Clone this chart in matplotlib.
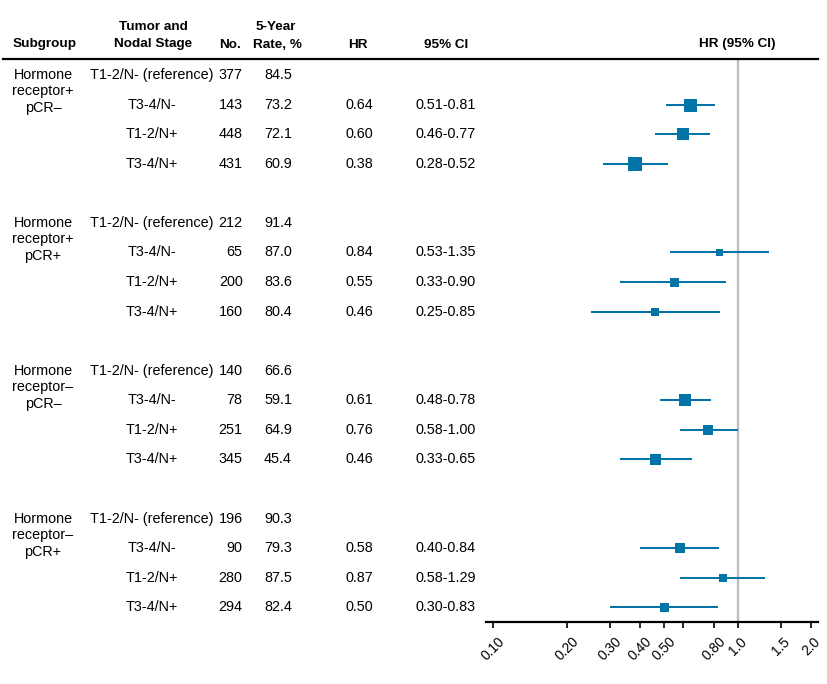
import matplotlib
matplotlib.use("Agg")
import matplotlib.pyplot as plt
from matplotlib.transforms import blended_transform_factory
from matplotlib.lines import Line2D

plt.rcParams['font.family'] = ['Liberation Sans', 'DejaVu Sans']

# ---------------- data ----------------
group_labels = [["Hormone", "receptor+", "pCR–"],
                ["Hormone", "receptor+", "pCR+"],
                ["Hormone", "receptor–", "pCR–"],
                ["Hormone", "receptor–", "pCR+"]]
stages = ["T1-2/N- (reference)", "T3-4/N-", "T1-2/N+", "T3-4/N+"]
n_counts = [[377, 143, 448, 431],
            [212, 65, 200, 160],
            [140, 78, 251, 345],
            [196, 90, 280, 294]]
rates = [[84.5, 73.2, 72.1, 60.9],
         [91.4, 87.0, 83.6, 80.4],
         [66.6, 59.1, 64.9, 45.4],
         [90.3, 79.3, 87.5, 82.4]]
hr = [[None, 0.64, 0.60, 0.38],
      [None, 0.84, 0.55, 0.46],
      [None, 0.61, 0.76, 0.46],
      [None, 0.58, 0.87, 0.50]]
ci_lo = [[None, 0.51, 0.46, 0.28],
         [None, 0.53, 0.33, 0.25],
         [None, 0.48, 0.58, 0.33],
         [None, 0.40, 0.58, 0.30]]
ci_hi = [[None, 0.81, 0.77, 0.52],
         [None, 1.35, 0.90, 0.85],
         [None, 0.78, 1.00, 0.65],
         [None, 0.84, 1.29, 0.83]]
x_ticks = [0.10, 0.20, 0.30, 0.40, 0.50, 0.60, 0.80, 1.0, 1.5, 2.0]
x_ticklabels = ["0.10", "0.20", "0.30", "0.40", "0.50", "", "0.80", "1.0", "1.5", "2.0"]

# ---------------- style ----------------
marker_px = [[0, 13, 12, 13.5],
             [0, 7, 9, 8],
             [0, 11.7, 10, 11],
             [0, 10, 8, 9]]
BLUE = "#0174A8"
W, H = 828, 684
BODY = 10.4
HEAD = 9.7

fig = plt.figure(figsize=(W / 100, H / 100), dpi=100)
ax_l, ax_r, ax_t, ax_b = 486, 818, 60.2, 622
ax = fig.add_axes([ax_l / W, 1 - ax_b / H, (ax_r - ax_l) / W, (ax_b - ax_t) / H])

rows_per_group = len(stages) + 1
n_rows = rows_per_group * len(group_labels) - 1

trans = blended_transform_factory(fig.transFigure, ax.transData)

def fx(px):
    return px / W

row_px = (ax_b - ax_t) / n_rows

for g in range(len(group_labels)):
    base = g * rows_per_group
    for k, line in enumerate(group_labels[g]):
        ax.text(fx(43), base + k * 16.5 / row_px, line, transform=trans,
                ha='center', va='center', fontsize=BODY)
    for i, st in enumerate(stages):
        r = base + i
        ax.text(fx(152), r, st, transform=trans, ha='center', va='center', fontsize=BODY)
        ax.text(fx(242.5), r, f"{n_counts[g][i]}", transform=trans, ha='right', va='center', fontsize=BODY)
        ax.text(fx(278), r, f"{rates[g][i]:.1f}", transform=trans, ha='center', va='center', fontsize=BODY)
        if hr[g][i] is not None:
            ax.text(fx(359), r, f"{hr[g][i]:.2f}", transform=trans, ha='center', va='center', fontsize=BODY)
            ax.text(fx(446), r, f"{ci_lo[g][i]:.2f}-{ci_hi[g][i]:.2f}", transform=trans,
                    ha='center', va='center', fontsize=BODY)
            ax.plot([ci_lo[g][i], ci_hi[g][i]], [r, r], color=BLUE, lw=1.45, solid_capstyle='butt', zorder=3)
            ax.plot([hr[g][i]], [r], marker='s', color=BLUE, markersize=marker_px[g][i] * 0.72,
                    markeredgewidth=0, zorder=4)

ax.axvline(1.0, color='#BDBDBD', lw=1.7, zorder=1)

ax.set_xscale('log')
ax.set_xlim(0.0933, 2.135)
ax.set_ylim(n_rows - 0.5, -0.5)
ax.set_xticks(x_ticks)
ax.set_xticklabels(x_ticklabels, rotation=45, ha='center', fontsize=9.9)
ax.minorticks_off()
ax.tick_params(axis='x', direction='out', length=4.5, width=1.2, pad=4.5)
ax.set_yticks([])
for s in ['top', 'left', 'right']:
    ax.spines[s].set_visible(False)
ax.spines['bottom'].set_linewidth(1.6)

# headers
def hy(py):
    return 1 - py / H

fig.text(fx(13), hy(44.5), "Subgroup", ha='left', va='center', fontsize=HEAD, fontweight='bold')
fig.text(fx(153), hy(27.5), "Tumor and", ha='center', va='center', fontsize=HEAD, fontweight='bold')
fig.text(fx(153), hy(44.5), "Nodal Stage", ha='center', va='center', fontsize=HEAD, fontweight='bold')
fig.text(fx(241), hy(44.5), "No.", ha='right', va='center', fontsize=HEAD, fontweight='bold')
fig.text(fx(276), hy(27.5), "5-Year", ha='center', va='center', fontsize=HEAD, fontweight='bold')
fig.text(fx(277), hy(44.5), "Rate, %", ha='center', va='center', fontsize=HEAD, fontweight='bold')
fig.text(fx(358), hy(44.5), "HR", ha='center', va='center', fontsize=HEAD, fontweight='bold')
fig.text(fx(446), hy(44.5), "95% CI", ha='center', va='center', fontsize=HEAD, fontweight='bold')
fig.text(fx(737), hy(44.5), "HR (95% CI)", ha='center', va='center', fontsize=HEAD, fontweight='bold')
fig.add_artist(Line2D([fx(3), fx(818)], [hy(59.3), hy(59.3)], color='black', lw=1.6,
                      transform=fig.transFigure))

fig.savefig("out.png", dpi=100)
